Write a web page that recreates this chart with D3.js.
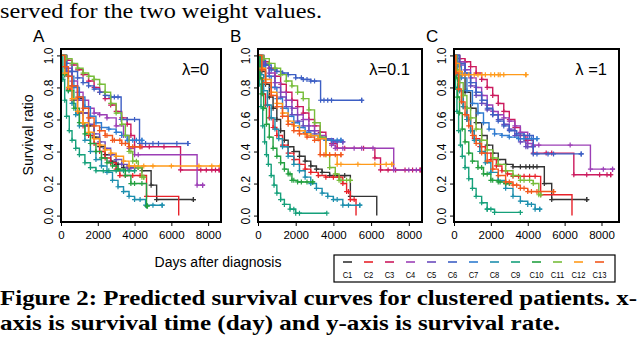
<!DOCTYPE html>
<html>
<head>
<meta charset="utf-8">
<script src="https://cdn.jsdelivr.net/npm/d3@7"></script>
<style>
  body { margin: 0; background: #fff; }
  svg { display: block; }
</style>
</head>
<body>
<svg width="640" height="340"></svg>
<script>
  // clusters, colours, panel labels
  const clusters = ['C1','C2','C3','C4','C5','C6','C7','C8','C9','C10','C11','C12','C13'];
  const colors = ['#333333','#e8222a','#cc1a5e','#9c3fb6','#6a4bbd','#3d5fc4','#2f7bd0',
                  '#1d8fae','#15a07a','#23a040','#77bd3a','#ff9a1a','#f2571c'];
  const panelLabels = ['A','B','C'];
  const lambdas = ['λ=0','λ=0.1','λ =1'];
  const xTicks = [0,2000,4000,6000,8000];
  const yTicks = [0,0.2,0.4,0.6,0.8,1.0];

  // survival curves: [days, survival] per cluster
  const survA = [
    [[0,1],[300,0.9],[600,0.81],[900,0.73],[1200,0.64],[1500,0.56],[1800,0.49],[2100,0.43],[2400,0.38],[2700,0.34],[3000,0.32],[3400,0.3],[4400,0.28],[4900,0.19],[5200,0.1],[7200,0.1]],
    [[0,1],[200,0.88],[400,0.79],[600,0.72],[900,0.64],[1200,0.56],[1500,0.5],[1800,0.45],[2100,0.4],[2400,0.36],[2700,0.33],[3000,0.29],[3200,0.25],[4650,0.12],[6400,0]],
    [[0,1],[300,0.97],[600,0.94],[900,0.91],[1200,0.88],[1500,0.84],[1800,0.8],[2100,0.77],[2400,0.73],[2700,0.69],[3000,0.65],[3300,0.61],[3600,0.57],[3800,0.5],[4000,0.43],[6500,0.285],[8600,0.285]],
    [[0,1],[300,0.92],[600,0.84],[900,0.77],[1200,0.72],[1500,0.67],[1800,0.64],[2100,0.63],[2500,0.61],[3000,0.56],[3400,0.5],[3700,0.42],[4000,0.38],[7400,0.19],[7700,0.19]],
    [[0,1],[300,0.9],[600,0.81],[900,0.72],[1200,0.64],[1500,0.57],[1800,0.51],[2100,0.46],[2400,0.42],[2700,0.38],[3000,0.35],[3300,0.32],[3600,0.3],[4000,0.3]],
    [[0,1],[300,0.95],[600,0.9],[900,0.86],[1200,0.83],[1500,0.81],[1800,0.79],[2100,0.77],[2400,0.75],[2700,0.74],[3270,0.6],[4270,0.45],[6900,0.45]],
    [[0,1],[200,0.93],[400,0.87],[700,0.8],[1000,0.74],[1300,0.68],[1600,0.62],[1900,0.58],[2200,0.55],[2600,0.54],[3000,0.52],[3300,0.5],[3600,0.47],[4400,0.47]],
    [[0,1],[200,0.88],[400,0.78],[600,0.7],[800,0.63],[1000,0.56],[1300,0.47],[1600,0.4],[1900,0.35],[2200,0.31],[2500,0.27],[2800,0.22],[3100,0.18],[3400,0.15],[3700,0.12],[4000,0.1],[4600,0.065],[5500,0.065]],
    [[0,1],[100,0.85],[200,0.72],[300,0.62],[450,0.53],[600,0.47],[800,0.42],[1000,0.38],[1300,0.33],[1600,0.3],[1900,0.28],[4000,0.28]],
    [[0,1],[200,0.88],[400,0.78],[700,0.67],[1000,0.58],[1300,0.51],[1600,0.45],[1900,0.4],[2200,0.36],[2500,0.33],[2800,0.31],[3100,0.29],[3500,0.25],[3800,0.2],[4650,0.06],[4700,0.06]],
    [[0,1],[300,0.98],[600,0.95],[900,0.92],[1200,0.89],[1500,0.87],[1800,0.85],[2100,0.82],[2400,0.77],[2700,0.7],[3000,0.64],[3300,0.57],[3500,0.5],[3700,0.4],[3900,0.34],[4200,0.3],[4400,0.24],[4500,0.24]],
    [[0,1],[200,0.89],[400,0.8],[600,0.73],[900,0.65],[1200,0.58],[1500,0.52],[1800,0.48],[2100,0.44],[2400,0.41],[2700,0.39],[3000,0.37],[3400,0.34],[3700,0.31],[8700,0.31]],
    [[0,1],[200,0.93],[400,0.87],[600,0.81],[900,0.74],[1200,0.67],[1500,0.61],[1800,0.56],[2100,0.53],[2400,0.5],[2800,0.47],[3300,0.45],[3700,0.43],[4300,0.43]]
  ];
  const censA = [
    [3100,3700,4200,7200],[3500,3900,4300],[4400,4800,5600,7600,7900,8200,8400,8600],[4200,7700],
    [3800,4000],[2900,3100,3600,4000,4600,5000,5300,6300,6900],[3900,4100,4400],[4300,5000,5500],
    [2300,2600,3000,3400,3700,4000],[4000,4400,4700],[3800,4100,4500],[4000,4500,5000,6000,7500,8200,8650],
    [2500,2900,3200,3500,3900,4300]
  ];

  const survB = [
    [[0,1],[200,0.9],[400,0.82],[600,0.74],[800,0.67],[1000,0.6],[1200,0.53],[1400,0.47],[1600,0.43],[1900,0.4],[2200,0.37],[2500,0.34],[2800,0.31],[3100,0.29],[3400,0.27],[3800,0.25],[4900,0.12],[6300,0]],
    [[0,1],[100,0.86],[250,0.76],[400,0.69],[600,0.61],[800,0.55],[1000,0.5],[1300,0.44],[1600,0.39],[1900,0.35],[2200,0.32],[2500,0.29],[2800,0.27],[3200,0.25],[3600,0.24],[4500,0.2],[4700,0.15],[4900,0.1],[5200,0]],
    [[0,1],[300,0.96],[600,0.92],[900,0.87],[1200,0.82],[1500,0.77],[1800,0.72],[2100,0.68],[2400,0.64],[2700,0.6],[3000,0.56],[3300,0.52],[3600,0.48],[3900,0.45],[4200,0.42],[6200,0.36],[6500,0.285],[8600,0.285]],
    [[0,1],[300,0.95],[600,0.89],[900,0.83],[1200,0.77],[1500,0.72],[1800,0.67],[2100,0.63],[2400,0.6],[2700,0.56],[3000,0.53],[3300,0.5],[3600,0.47],[3900,0.44],[4100,0.42],[7200,0.285],[8700,0.285]],
    [[0,1],[300,0.94],[600,0.87],[900,0.8],[1200,0.74],[1500,0.68],[1800,0.63],[2100,0.59],[2400,0.56],[2700,0.53],[3000,0.51],[3300,0.49],[3600,0.48],[4000,0.46],[4500,0.46]],
    [[0,1],[200,0.97],[400,0.94],[700,0.91],[1000,0.9],[1300,0.89],[1600,0.88],[2000,0.86],[2400,0.85],[2800,0.84],[3320,0.72],[5500,0.72]],
    [[0,1],[200,0.93],[400,0.87],[700,0.8],[1000,0.73],[1300,0.67],[1600,0.62],[1900,0.58],[2200,0.55],[2500,0.52],[2800,0.5],[3200,0.48],[3600,0.47],[4400,0.47]],
    [[0,1],[150,0.88],[300,0.78],[500,0.69],[700,0.61],[900,0.54],[1100,0.48],[1300,0.43],[1600,0.37],[1900,0.32],[2200,0.28],[2500,0.24],[2800,0.2],[3100,0.17],[3400,0.14],[3700,0.12],[4000,0.1],[4500,0.065],[5400,0.065]],
    [[0,1],[80,0.82],[160,0.68],[250,0.56],[350,0.46],[450,0.38],[550,0.32],[700,0.25],[850,0.19],[1000,0.14],[1200,0.1],[1400,0.07],[1700,0.04],[2000,0.015],[3650,0.015]],
    [[0,1],[100,0.86],[200,0.76],[300,0.67],[450,0.57],[600,0.49],[800,0.42],[1000,0.37],[1200,0.33],[1400,0.29],[1600,0.26],[1800,0.22],[2100,0.21],[2900,0.21]],
    [[0,1],[300,0.98],[600,0.95],[900,0.92],[1200,0.88],[1500,0.84],[1800,0.81],[2100,0.77],[2400,0.73],[2700,0.66],[3000,0.58],[3300,0.49],[3600,0.38],[3800,0.3],[4100,0.26],[4300,0.22],[4900,0.22]],
    [[0,1],[200,0.92],[400,0.85],[700,0.77],[1000,0.7],[1300,0.64],[1600,0.59],[1900,0.56],[2200,0.53],[2500,0.51],[2800,0.5],[3200,0.48],[3600,0.38],[4200,0.32],[7100,0.32]],
    [[0,1],[200,0.91],[400,0.83],[700,0.75],[1000,0.68],[1300,0.62],[1600,0.57],[1900,0.53],[2200,0.51],[2600,0.49],[3000,0.47],[3300,0.38],[4400,0.38]]
  ];
  const censB = [
    [4200,4600],[4000,4300,4800,5100],[4600,5600,6900,7300,7800,8200,8600],[4500,5100,5500,6100,8000,8400,8700],
    [4200,4500],[2300,2600,3000,3500,3700,3900,5500],[3900,4200,4400],[4200,4800,5400],
    [1900,2200],[1700,1900,2300,2600,2900],[4400,4700,4900],[3800,4400,5300,6200,6800,7100],
    [3500,3800,4100,4400]
  ];

  const survC = [
    [[0,1],[300,0.88],[600,0.77],[900,0.67],[1200,0.58],[1500,0.5],[1800,0.44],[2100,0.39],[2400,0.35],[2800,0.32],[3200,0.305],[4900,0.2],[5300,0.1],[7200,0.1]],
    [[0,1],[150,0.88],[300,0.78],[500,0.68],[700,0.6],[900,0.53],[1100,0.48],[1400,0.43],[1700,0.39],[2000,0.35],[2300,0.31],[2600,0.28],[2900,0.26],[3200,0.245],[4700,0.13],[6400,0]],
    [[0,1],[300,0.98],[600,0.96],[900,0.93],[1200,0.89],[1500,0.85],[1800,0.8],[2100,0.75],[2400,0.7],[2700,0.65],[3000,0.6],[3300,0.55],[3600,0.5],[3900,0.47],[4300,0.39],[6500,0.255],[8500,0.255]],
    [[0,1],[300,0.96],[600,0.91],[900,0.86],[1200,0.8],[1500,0.75],[1800,0.69],[2100,0.65],[2400,0.63],[2700,0.61],[3000,0.59],[3300,0.56],[3600,0.52],[4000,0.45],[4300,0.44],[7400,0.29],[8600,0.29]],
    [[0,1],[300,0.94],[600,0.88],[900,0.81],[1200,0.75],[1500,0.7],[1800,0.66],[2100,0.63],[2400,0.6],[2700,0.57],[3000,0.54],[3300,0.5],[3600,0.46],[3900,0.43],[4300,0.43]],
    [[0,1],[300,0.95],[600,0.89],[900,0.83],[1200,0.77],[1500,0.72],[1800,0.67],[2100,0.63],[2400,0.59],[2700,0.56],[3000,0.53],[3400,0.51],[3800,0.5],[4300,0.385],[6900,0.385]],
    [[0,1],[200,0.93],[400,0.86],[700,0.78],[1000,0.7],[1300,0.64],[1600,0.58],[1900,0.54],[2200,0.51],[2600,0.5],[3000,0.49],[3500,0.48],[4500,0.48]],
    [[0,1],[150,0.88],[300,0.78],[500,0.68],[700,0.6],[900,0.53],[1100,0.47],[1400,0.4],[1700,0.33],[2000,0.27],[2400,0.22],[2800,0.17],[3200,0.12],[3600,0.09],[4000,0.07],[4400,0.04],[4650,0.04]],
    [[0,1],[80,0.8],[160,0.65],[250,0.53],[350,0.44],[450,0.37],[600,0.3],[800,0.23],[1000,0.17],[1200,0.12],[1500,0.08],[1800,0.04],[2200,0.02],[3600,0.02]],
    [[0,1],[100,0.86],[200,0.74],[300,0.64],[450,0.54],[600,0.46],[800,0.39],[1000,0.34],[1300,0.3],[1600,0.26],[2000,0.22],[2400,0.21],[2800,0.2],[3000,0.2]],
    [[0,1],[150,0.91],[300,0.83],[500,0.75],[700,0.67],[900,0.61],[1200,0.54],[1500,0.47],[1800,0.41],[2100,0.36],[2400,0.32],[2800,0.28],[3200,0.25],[3600,0.22],[4300,0.2],[4600,0.13],[4700,0.13]],
    [[0,1],[100,0.95],[300,0.9],[450,0.88],[3900,0.88]],
    [[0,1],[100,0.89],[250,0.79],[400,0.71],[600,0.63],[800,0.56],[1000,0.5],[1200,0.45],[1500,0.39],[1800,0.34],[2100,0.29],[2400,0.25],[2800,0.21],[3200,0.19],[3600,0.17],[4000,0.15],[5400,0.15]]
  ];
  const censC = [
    [3600,3900,4100,4300,4500,7200],[3500,3800,4100,4400],[5000,5300,7200,7900,8300,8500],[4600,6300,8100,8600],
    [4000,4300],[4100,4500,5100,5400,6900],[3800,4200,4500],[4200,4650],
    [1800,2000],[1500,1800,2100,2500,2800],[3800,4100,4700],
    [600,800,1100,1300,1500,1700,2000,2200,2400,2500,2700,3900],
    [3000,3400,3800,4200,4500,5400]
  ];

  const svg = d3.select('svg');
  svg.append('rect').attr('width', 640).attr('height', 340).attr('fill', '#fff');

  const sans = 'Liberation Sans, Arial, Helvetica, sans-serif';
  const serif = 'Liberation Serif, Times New Roman, serif';

  // text of the paper around the figure
  svg.append('text')
    .attr('x', 0).attr('y', 18)
    .attr('textLength', 322).attr('lengthAdjust', 'spacingAndGlyphs')
    .style('font-family', serif).style('font-size', '21px')
    .text('served for the two weight values.');

  const panels = [
    {left: 61, right: 221, xMax: 8700, surv: survA, cens: censA},
    {left: 258, right: 422, xMax: 8700, surv: survB, cens: censB},
    {left: 454, right: 619, xMax: 8950, surv: survC, cens: censC}
  ];
  const plotTop = 49, plotBottom = 222;
  const y = d3.scaleLinear().domain([-0.04, 1.04]).range([plotBottom, plotTop]);

  const stepAt = (pts, t) => {
    let s = pts[0][1];
    pts.forEach(p => { if (p[0] <= t) s = p[1]; });
    return s;
  };

  panels.forEach((p, pi) => {
    const x = d3.scaleLinear().domain([0, p.xMax]).range([p.left, p.right]);
    const g = svg.append('g');

    const clipId = 'clip' + pi;
    svg.append('clipPath').attr('id', clipId)
      .append('rect')
      .attr('x', p.left).attr('y', plotTop)
      .attr('width', p.right - p.left).attr('height', plotBottom - plotTop);

    const plot = g.append('g').attr('clip-path', 'url(#' + clipId + ')');
    const line = d3.line()
      .x(d => x(d[0]))
      .y(d => y(d[1]))
      .curve(d3.curveStepAfter);

    p.surv.forEach((pts, ci) => {
      const cg = plot.append('g').attr('stroke', colors[ci]);
      cg.append('path')
        .attr('d', line(pts))
        .attr('fill', 'none')
        .attr('stroke-width', 1.4);

      // censor marks: on the knots plus the tail marks
      const marks = pts.slice(1).filter(d => d[1] > 0).map(d => [d[0], d[1]])
        .concat(p.cens[ci].map(t => [t, stepAt(pts, t)]));
      const a = 2.5;
      cg.selectAll('path.cens')
        .data(marks)
        .enter()
        .append('path')
          .attr('class', 'cens')
          .attr('d', d => {
            const cx = x(d[0]), cy = y(d[1]);
            return `M${cx - a},${cy}H${cx + a}M${cx},${cy - a}V${cy + a}`;
          })
          .attr('stroke-width', 1.2);
    });

    // axes
    const xAxis = g.append('g')
      .attr('transform', `translate(0,${plotBottom})`)
      .call(d3.axisBottom(x).tickValues(xTicks).tickSize(4).tickPadding(5).tickFormat(d3.format('d')));
    xAxis.select('.domain').remove();
    xAxis.selectAll('line').attr('stroke', '#000');
    xAxis.selectAll('text')
      .style('font-family', sans).style('font-size', '11.5px').attr('fill', '#000');

    const yAxis = g.append('g')
      .attr('transform', `translate(${p.left},0)`)
      .call(d3.axisLeft(y).tickValues(yTicks).tickSize(4).tickFormat(d3.format('.1f')));
    yAxis.select('.domain').remove();
    yAxis.selectAll('line').attr('stroke', '#000');
    yAxis.selectAll('text')
      .attr('transform', 'rotate(-90)')
      .attr('x', 0).attr('y', -8).attr('dy', 0)
      .attr('text-anchor', 'middle')
      .style('font-family', sans).style('font-size', '12px').attr('fill', '#000');

    // frame
    g.append('rect')
      .attr('x', p.left).attr('y', plotTop)
      .attr('width', p.right - p.left).attr('height', plotBottom - plotTop)
      .attr('fill', 'none').attr('stroke', '#000').attr('stroke-width', 2);

    g.append('text')
      .attr('x', p.right - 12).attr('y', 75)
      .attr('text-anchor', 'end')
      .style('font-family', sans).style('font-size', '16.5px')
      .text(lambdas[pi]);

    g.append('text')
      .attr('x', p.left - 28).attr('y', 42)
      .style('font-family', sans).style('font-size', '17px')
      .text(panelLabels[pi]);
  });

  svg.append('text')
    .attr('transform', 'translate(33,135) rotate(-90)')
    .attr('text-anchor', 'middle')
    .style('font-family', sans).style('font-size', '14px')
    .text('Survival ratio');

  svg.append('text')
    .attr('x', 218).attr('y', 267)
    .attr('text-anchor', 'middle')
    .style('font-family', sans).style('font-size', '14px')
    .text('Days after diagnosis');

  // legend
  const legend = svg.append('g');
  legend.append('rect')
    .attr('x', 334).attr('y', 255).attr('width', 281).attr('height', 27)
    .attr('fill', 'none').attr('stroke', '#000').attr('stroke-width', 1.2);
  const lx = d3.scalePoint().domain(clusters).range([347.5, 599.5]);
  legend.selectAll('line')
    .data(clusters)
    .enter()
    .append('line')
      .attr('x1', d => lx(d) - 4.5).attr('x2', d => lx(d) + 4.5)
      .attr('y1', 262).attr('y2', 262)
      .attr('stroke', (d, i) => colors[i]).attr('stroke-width', 1.6);
  legend.selectAll('text')
    .data(clusters)
    .enter()
    .append('text')
      .attr('transform', d => `translate(${lx(d)},277.5) scale(0.8,1)`)
      .attr('text-anchor', 'middle')
      .style('font-family', sans).style('font-size', '9.5px')
      .text(d => d);

  // caption
  svg.append('text')
    .attr('x', 0).attr('y', 305)
    .attr('textLength', 637).attr('lengthAdjust', 'spacingAndGlyphs')
    .style('font-family', serif).style('font-size', '21px').style('font-weight', 'bold')
    .text('Figure 2: Predicted survival curves for clustered patients. x-');
  svg.append('text')
    .attr('x', 0).attr('y', 329.5)
    .attr('textLength', 560).attr('lengthAdjust', 'spacingAndGlyphs')
    .style('font-family', serif).style('font-size', '21px').style('font-weight', 'bold')
    .text('axis is survival time (day) and y-axis is survival rate.');
</script>
</body>
</html>
